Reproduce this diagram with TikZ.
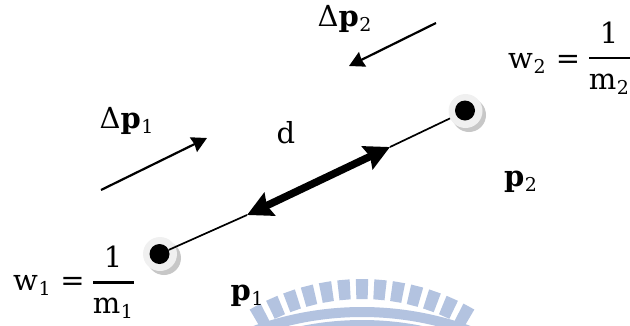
\documentclass[tikz,border=0pt]{standalone}
\usepackage{fontspec}
\setmainfont{DejaVu Serif}
\usetikzlibrary{arrows.meta,calc}
\definecolor{wm}{HTML}{B3C3E0}
\newcommand{\subd}[1]{\kern0.5pt{\fontseries{m}\fontsize{19}{20}\selectfont\raisebox{-5pt}{#1}}}
\tikzset{
 lbl/.style={inner sep=0pt,anchor=base,font=\fontsize{29}{32}\selectfont},
 thinln/.style={line width=1.7pt,black},
 fracbar/.style={line width=2.6pt,black},
 forcearrow/.style={line width=2.2pt,black,-{Stealth[length=15pt,width=16pt,inset=1pt]}},
 thickarrow/.style={line width=7.5pt,black,{Stealth[length=25pt,width=25pt,inset=3pt]}-{Stealth[length=25pt,width=25pt,inset=3pt]}},
 ringnode/.style={circle,minimum size=34pt,inner sep=0pt,fill=black!6},
 shadowdisc/.style={circle,minimum size=34pt,inner sep=0pt,fill=black!22},
 dotnode/.style={circle,minimum size=20pt,inner sep=0pt,fill=black},
}
\begin{document}
\begin{tikzpicture}[x=1pt,y=-1pt]
\useasboundingbox (0,0) rectangle (630,325);
% watermark
\begin{scope}
\clip (0,0) rectangle (630,325);
\coordinate (wc) at (362,501);
\coordinate (wb) at (362,627);
\foreach \a in {-28.8,-24,...,28.9}{
  \fill[wm] ($(wc)+(\a-1.6-90:202)$) -- ($(wc)+(\a+1.6-90:202)$) -- ($(wc)+(\a+1.6-90:222)$) -- ($(wc)+(\a-1.6-90:222)$) -- cycle;
}
\draw[wm,line width=10pt] ($(wb)+(-110:315)$) arc[start angle=-110,end angle=-70,radius=315];
\draw[wm,line width=10pt] ($(wb)+(-110:302)$) arc[start angle=-110,end angle=-70,radius=302];
\end{scope}
% particles
\node[shadowdisc] (s1) at (164,258) {};
\node[ringnode] (r1) at (160,254) {};
\node[dotnode] (p1) at (159.5,254) {};
\node[shadowdisc] (s2) at (469,115) {};
\node[ringnode] (r2) at (465.5,111) {};
\node[dotnode] (p2) at (465,110.5) {};
\coordinate (a) at (247,215);
\coordinate (b) at (390,147);
\draw[thinln] (p1) -- (a);
\draw[thinln] (r2) -- (b);
\draw[thickarrow] (a) -- (b);
% corrections
\coordinate (c1s) at (101,190);
\coordinate (c1e) at (207,138);
\coordinate (c2s) at (436,23);
\coordinate (c2e) at (349,66);
\draw[forcearrow] (c1s) -- (c1e);
\draw[forcearrow] (c2s) -- (c2e);
% labels
\node[lbl] (dp2) at (344.5,26) {Δ\textbf{p}\subd{2}};
\node[lbl] (dp1) at (126.5,128) {Δ\textbf{p}\subd{1}};
\node[lbl] (d) at (286,143) {d};
\node[lbl] (lp2) at (520.5,186) {\textbf{p}\subd{2}};
\node[lbl] (lp1) at (247,300) {\textbf{p}\subd{1}};
% w2
\node[lbl,anchor=base west] (w2) at (508,68) {w\subd{2}};
\node[lbl] (e2) at (568,68) {=};
\coordinate (b2l) at (589,58);
\coordinate (b2r) at (630,58);
\draw[fracbar] (b2l) -- (b2r);
\node[lbl] (n2) at (609,43) {1};
\node[lbl] (m2) at (609,89) {m\subd{2}};
% w1
\node[lbl,anchor=base west] (w1) at (13,290) {w\subd{1}};
\node[lbl] (e1) at (72.5,290) {=};
\coordinate (b1l) at (93,282.5);
\coordinate (b1r) at (134,282.5);
\draw[fracbar] (b1l) -- (b1r);
\node[lbl] (n1) at (113,267) {1};
\node[lbl] (m1) at (113,313) {m\subd{1}};
\end{tikzpicture}
\end{document}
